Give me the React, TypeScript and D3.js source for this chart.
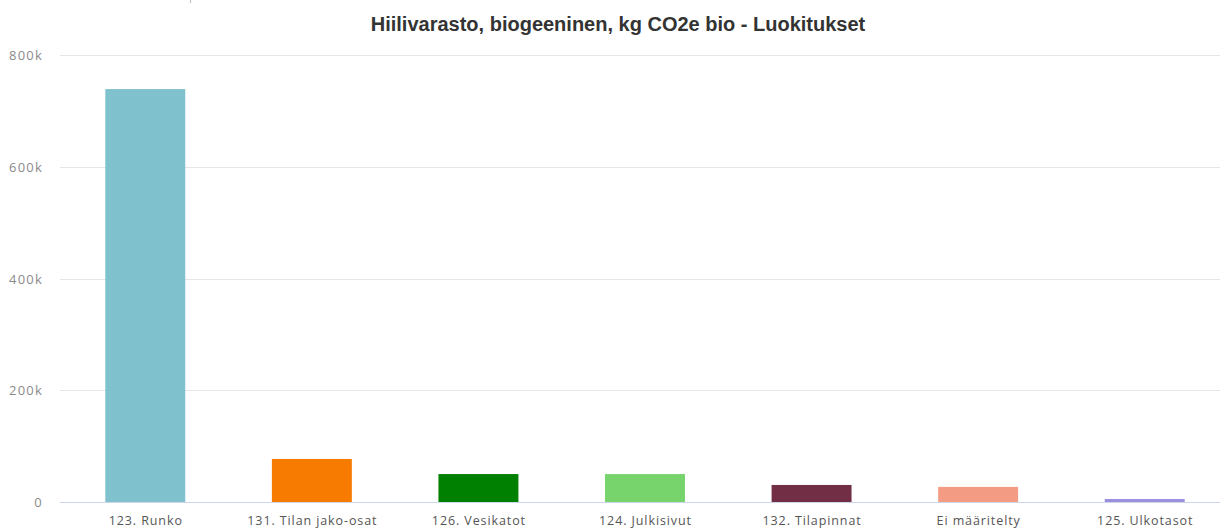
import React from "react";
import * as d3 from "d3";

const categories: string[] = [
  "123. Runko",
  "131. Tilan jako-osat",
  "126. Vesikatot",
  "124. Julkisivut",
  "132. Tilapinnat",
  "Ei määritelty",
  "125. Ulkotasot",
];
const values: number[] = [739000, 77000, 50000, 50000, 30500, 27000, 5400];
const colors: string[] = ["#7fc1cc", "#f77b00", "#008000", "#77d46d", "#722e45", "#f39c83", "#9b8fe0"];
const yTicks: number[] = [0, 200000, 400000, 600000, 800000];
const title = "Hiilivarasto, biogeeninen, kg CO2e bio - Luokitukset";

const W = 1226;
const H = 529;
const plotLeft = 62;
const plotRight = 1228;
const plotTop = 55;
const plotBottom = 502;

export default function App() {
  const x = d3.scaleBand<string>().domain(categories).range([plotLeft, plotRight]).paddingInner(0.52).paddingOuter(0.26);
  const y = d3.scaleLinear().domain([0, 800000]).range([plotBottom, plotTop]);
  const fmt = (v: number) => (v === 0 ? "0" : `${v / 1000}k`);

  return (
    <svg
      width={W}
      height={H}
      style={{ position: "absolute", left: 0, top: 0, background: "#fff" }}
      fontFamily="'Open Sans', sans-serif"
    >
      <line x1={190.5} x2={190.5} y1={0} y2={3} stroke="#bbb" />
      <text x={618} y={31} textAnchor="middle" fontFamily="'Liberation Sans', Arial, sans-serif" fontWeight="bold" fontSize={20} fill="#333">
        {title}
      </text>
      {yTicks.map((t) => (
        <g key={t}>
          {t !== 0 && (
            <line x1={60} x2={1220} y1={Math.round(y(t)) + 0.5} y2={Math.round(y(t)) + 0.5} stroke="#e6e6e6" />
          )}
          <text x={43} y={y(t) + 5} textAnchor="end" fontSize={13} letterSpacing={1.2} fill="#8a8a8a">
            {fmt(t)}
          </text>
        </g>
      ))}
      {categories.map((c, i) => (
        <rect
          key={c}
          x={x(c)}
          y={y(values[i])}
          width={x.bandwidth()}
          height={plotBottom - y(values[i])}
          fill={colors[i]}
        />
      ))}
      <line x1={60} x2={1220} y1={plotBottom + 0.5} y2={plotBottom + 0.5} stroke="#ccd6eb" />
      {categories.map((c) => (
        <text
          key={c}
          x={(x(c) as number) + x.bandwidth() / 2 + 0.5}
          y={525}
          textAnchor="middle"
          fontSize={12.5}
          letterSpacing={0.9}
          fill="#555"
        >
          {c}
        </text>
      ))}
    </svg>
  );
}
